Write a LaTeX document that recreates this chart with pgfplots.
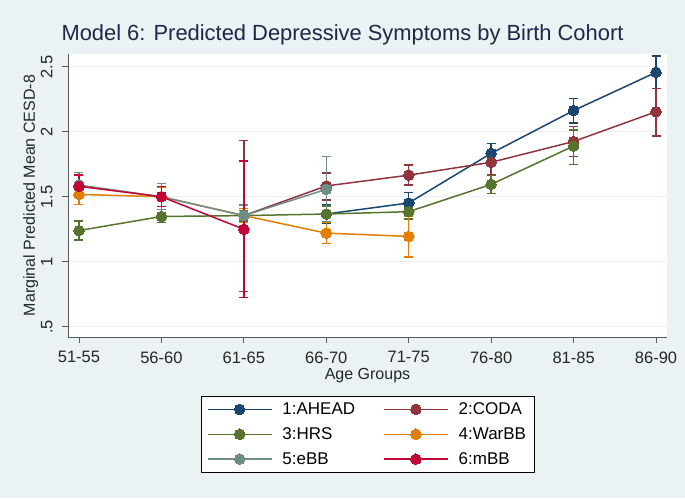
\documentclass[border=0pt]{standalone}
\usepackage{pgfplots}
\pgfplotsset{compat=1.18}
\usepackage{fontspec}
\setmainfont{Liberation Sans}
\definecolor{bgc}{RGB}{234,242,243}
\definecolor{gridc}{RGB}{234,240,243}
\definecolor{axisc}{RGB}{90,90,90}
\definecolor{titlec}{RGB}{30,40,70}
\definecolor{navyc}{RGB}{26,71,111}
\definecolor{maroonc}{RGB}{144,53,59}
\definecolor{greenc}{RGB}{85,117,47}
\definecolor{orangec}{RGB}{227,126,0}
\definecolor{tealc}{RGB}{110,142,132}
\definecolor{cranc}{RGB}{193,5,52}
\pgfplotsset{
  ci/.style={forget plot, only marks, mark=none, color=#1, line width=1.5pt,
    error bars/.cd, y dir=both, y explicit, error mark=|,
    error bar style={draw=#1, line width=1.5pt},
    error mark options={draw=#1, line width=1.5pt, mark size=4.5pt}},
  ser/.style={color=#1, line width=1.5pt, mark=*, mark size=5.3pt,
    mark options={solid, fill=#1, draw=#1, line width=0pt}},
  mylegimg/.style={legend image code/.code={%
    \draw[mark repeat=2,mark phase=2,##1] plot coordinates {(0pt,0pt) (32pt,0pt) (64pt,0pt)};}}
}
\begin{document}
\begin{tikzpicture}
\fill[bgc] (0pt,0pt) rectangle (685pt,-498pt);
\useasboundingbox (0pt,0pt) rectangle (685pt,-498pt);
\node[anchor=base, font=\fontsize{21.9}{26}\selectfont, text=titlec, inner sep=0pt] at (342.5pt,-40pt) {Model 6: Predicted Depressive Symptoms by Birth Cohort};
\begin{axis}[
  at={(68pt,-337pt)}, anchor=south west, scale only axis,
  width=599pt, height=283pt,
  xmin=-0.133, xmax=7.133, ymin=0.421, ymax=2.598,
  axis background/.style={fill=white},
  axis lines*=left,
  axis line style={draw=axisc, line width=0.9pt, -},
  tick align=outside, major tick length=6pt,
  tick style={draw=axisc, line width=0.9pt},
  xtick={0,1,2,3,4,5,6,7},
  xticklabels={51-55,56-60,61-65,66-70,71-75,76-80,81-85,86-90},
  ytick={0.5,1,1.5,2,2.5},
  yticklabels={.5,1,1.5,2,2.5},
  ymajorgrids, grid style={draw=gridc, line width=0.9pt},
  /pgf/number format/assume math mode=true,
  tick label style={font=\fontsize{16.5}{19}\selectfont, text=black!85},
  yticklabel style={rotate=90, anchor=south},
  yticklabel shift=6pt,
  xticklabel shift=5pt,
  xlabel={Age Groups},
  ylabel={Marginal Predicted Mean CESD-8},
  label style={font=\fontsize{16}{19}\selectfont, text=black!85},
  xlabel style={at={(axis description cs:0.5,-0.1519)}, anchor=base},
  ylabel style={at={(axis description cs:-0.0551,0.5)}, anchor=base},
  legend columns=2,
  legend cell align=left,
  mylegimg,
  legend style={at={(axis description cs:0.5,-0.2085)}, anchor=north,
    draw=black, fill=white,
    font=\fontsize{17}{20}\selectfont,
    /tikz/every even column/.append style={column sep=26pt},
    /tikz/every odd column/.append style={column sep=8pt},
    inner xsep=6pt, inner ysep=4.5pt, row sep=7.5pt},
]
% confidence intervals
\addplot[ci=navyc] coordinates {
 (3,1.367) += (0,0.07) -= (0,0.07)
 (4,1.452) += (0,0.081) -= (0,0.077)
 (5,1.834) += (0,0.074) -= (0,0.074)
 (6,2.163) += (0,0.094) -= (0,0.094)
 (7,2.457) += (0,0.125) -= (0,0.123)};
\addplot[ci=maroonc] coordinates {
 (2,1.355) += (0,0.577) -= (0,0.585)
 (3,1.583) += (0,0.100) -= (0,0.108)
 (4,1.666) += (0,0.077) -= (0,0.076)
 (5,1.765) += (0,0.095) -= (0,0.098)
 (6,1.925) += (0,0.115) -= (0,0.115)
 (7,2.154) += (0,0.180) -= (0,0.185)};
\addplot[ci=greenc] coordinates {
 (0,1.240) += (0,0.073) -= (0,0.073)
 (1,1.348) += (0,0.052) -= (0,0.048)
 (2,1.355) += (0,0.040) -= (0,0.040)
 (3,1.367) += (0,0.060) -= (0,0.057)
 (4,1.385) += (0,0.055) -= (0,0.055)
 (5,1.595) += (0,0.070) -= (0,0.069)
 (6,1.890) += (0,0.123) -= (0,0.141)};
\addplot[ci=orangec] coordinates {
 (0,1.518) += (0,0.077) -= (0,0.077)
 (1,1.500) += (0,0.075) -= (0,0.075)
 (2,1.355) += (0,0.055) -= (0,0.055)
 (3,1.220) += (0,0.080) -= (0,0.078)
 (4,1.195) += (0,0.155) -= (0,0.157)};
\addplot[ci=tealc] coordinates {
 (0,1.590) += (0,0.095) -= (0,0.090)
 (1,1.500) += (0,0.100) -= (0,0.100)
 (2,1.355) += (0,0.080) -= (0,0.075)
 (3,1.557) += (0,0.251) -= (0,0.247)};
\addplot[ci=cranc] coordinates {
 (0,1.580) += (0,0.087) -= (0,0.087)
 (1,1.500) += (0,0.077) -= (0,0.077)
 (2,1.250) += (0,0.525) -= (0,0.527)};
% series
\addplot[ser=navyc] coordinates {(3,1.367) (4,1.452) (5,1.834) (6,2.163) (7,2.457)};
\addlegendentry{1:AHEAD}
\addplot[ser=maroonc] coordinates {(2,1.355) (3,1.583) (4,1.666) (5,1.765) (6,1.925) (7,2.154)};
\addlegendentry{2:CODA\hspace{8pt}}
\addplot[ser=greenc] coordinates {(0,1.240) (1,1.348) (2,1.355) (3,1.367) (4,1.385) (5,1.595) (6,1.890)};
\addlegendentry{3:HRS}
\addplot[ser=orangec] coordinates {(0,1.518) (1,1.500) (2,1.355) (3,1.220) (4,1.195)};
\addlegendentry{4:WarBB\hspace{8pt}}
\addplot[ser=tealc] coordinates {(0,1.590) (1,1.500) (2,1.355) (3,1.557)};
\addlegendentry{5:eBB}
\addplot[ser=cranc] coordinates {(0,1.580) (1,1.500) (2,1.250)};
\addlegendentry{6:mBB\hspace{8pt}}
\end{axis}
\end{tikzpicture}
\end{document}
